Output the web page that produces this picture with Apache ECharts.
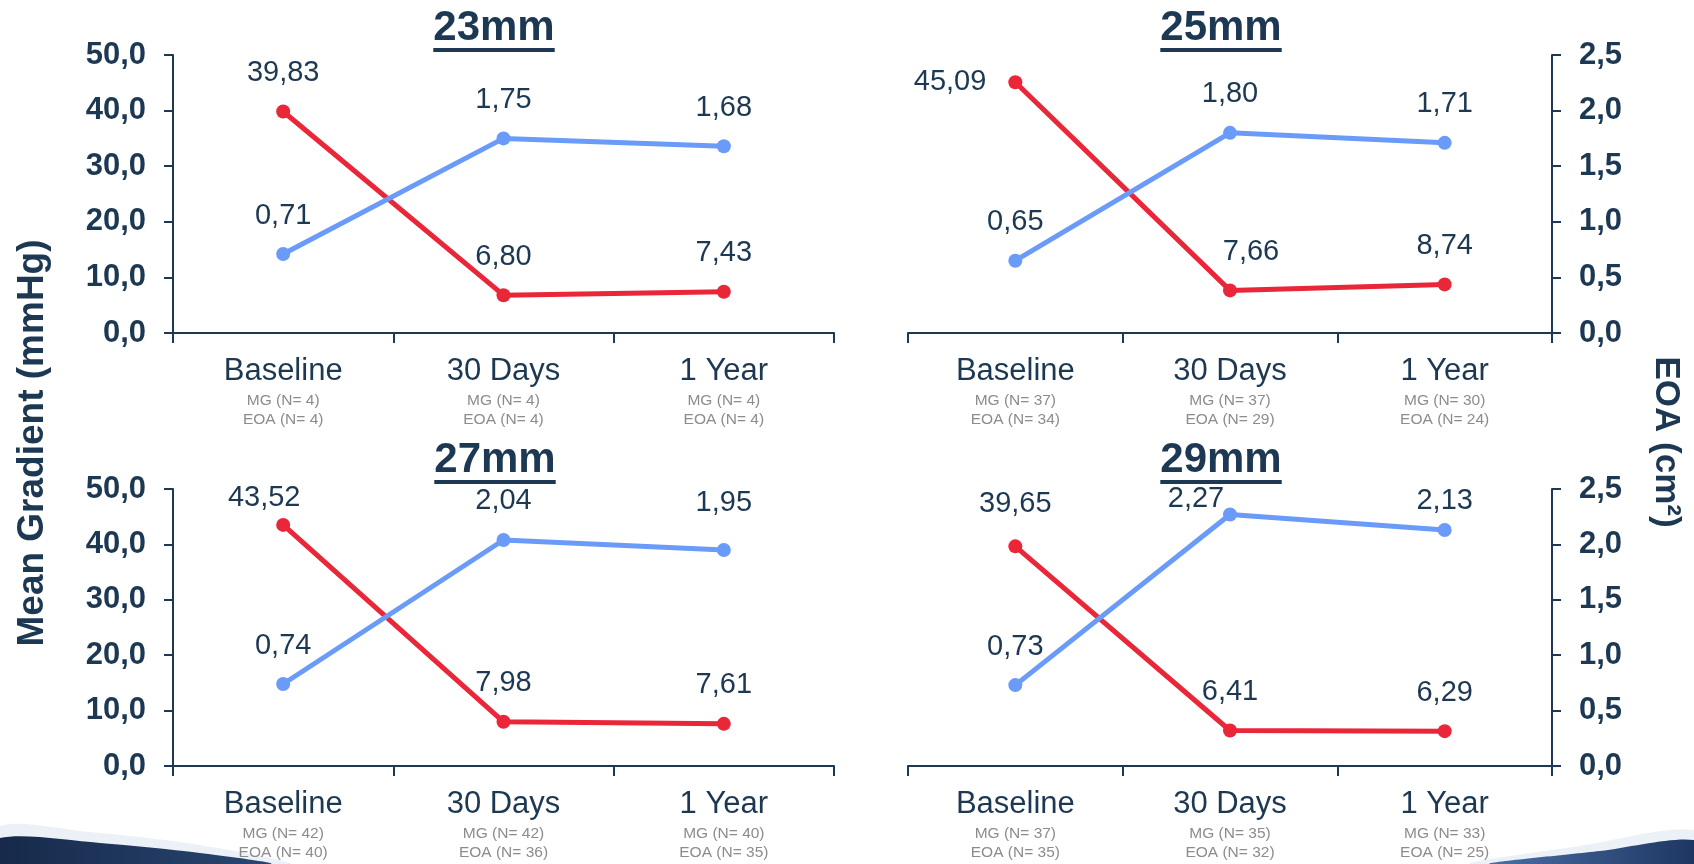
<!DOCTYPE html>
<html>
<head>
<meta charset="utf-8">
<script src="https://cdn.jsdelivr.net/npm/echarts@6/dist/echarts.min.js"></script>
<style>
  html, body { margin: 0; padding: 0; background: #ffffff; }
  #chart { width: 1694px; height: 864px; }
</style>
</head>
<body>
<div id="chart"></div>
<script>
// Follow-up time points
const categories = ['Baseline', '30 Days', '1 Year'];
const valveSizes = ['23mm', '25mm', '27mm', '29mm'];

// Mean gradient (mmHg) per valve size
const mg23 = [39.83, 6.80, 7.43];
const mg25 = [45.09, 7.66, 8.74];
const mg27 = [43.52, 7.98, 7.61];
const mg29 = [39.65, 6.41, 6.29];

// Effective orifice area (cm²) per valve size
const eoa23 = [0.71, 1.75, 1.68];
const eoa25 = [0.65, 1.80, 1.71];
const eoa27 = [0.74, 2.04, 1.95];
const eoa29 = [0.73, 2.27, 2.13];

// Patient counts under each time point
const nMG23 = [4, 4, 4];    const nEOA23 = [4, 4, 4];
const nMG25 = [37, 37, 30]; const nEOA25 = [34, 29, 24];
const nMG27 = [42, 42, 40]; const nEOA27 = [40, 36, 35];
const nMG29 = [37, 35, 33]; const nEOA29 = [35, 32, 25];

// Axis scales (both share the same vertical extent: 50 mmHg <-> 2.5 cm²)
const mgMax = 50, mgStep = 10;
const eoaMax = 2.5, eoaStep = 0.5;

const NAVY = '#1d3852';
const RED = '#ea2639';
const BLUE = '#6a9bf8';
const GREY = '#8c8c8c';
const FONT = '"Liberation Sans", Arial, sans-serif';

const panels = [
  { title: valveSizes[0], mg: mg23, eoa: eoa23, nMG: nMG23, nEOA: nEOA23, side: 'left',
    grid: { left: 173, top: 55, width: 661, height: 278 }, titleX: 494, titleY: 28, lineY: 48 },
  { title: valveSizes[1], mg: mg25, eoa: eoa25, nMG: nMG25, nEOA: nEOA25, side: 'right',
    grid: { left: 908, top: 55, width: 644, height: 278 }, titleX: 1221, titleY: 28, lineY: 48 },
  { title: valveSizes[2], mg: mg27, eoa: eoa27, nMG: nMG27, nEOA: nEOA27, side: 'left',
    grid: { left: 173, top: 489, width: 661, height: 277 }, titleX: 495, titleY: 460, lineY: 480 },
  { title: valveSizes[3], mg: mg29, eoa: eoa29, nMG: nMG29, nEOA: nEOA29, side: 'right',
    grid: { left: 908, top: 489, width: 644, height: 277 }, titleX: 1221, titleY: 460, lineY: 480 }
];

// Per-point label adjustments where labels would collide with lines or headings
const labelTweaks = {
  '25mm-mg-0': { position: 'left', distance: 22 },
  '25mm-mg-1': { offset: [21, 0] },
  '27mm-mg-0': { offset: [-19, 12] },
  '27mm-eoa-2': { offset: [0, -8] },
  '29mm-mg-0': { offset: [0, -4] },
  '29mm-eoa-1': { offset: [-34, 23] },
  '29mm-eoa-2': { offset: [0, 10] }
};

const comma = (v, d) => v.toFixed(d).replace('.', ',');

function measure(text, font) {
  const c = document.createElement('canvas').getContext('2d');
  c.font = font;
  return c.measureText(text).width;
}

const grids = [], xAxes = [], yAxes = [], series = [], graphics = [];

panels.forEach((p, i) => {
  grids.push(Object.assign({ containLabel: false }, p.grid));

  xAxes.push({
    type: 'category',
    gridIndex: i,
    data: categories,
    boundaryGap: true,
    axisLine: { show: true, lineStyle: { color: NAVY, width: 2 } },
    axisTick: { show: true, length: 10, lineStyle: { color: NAVY, width: 2 } },
    splitLine: { show: false },
    axisLabel: {
      margin: 18,
      interval: 0,
      formatter: (val, idx) =>
        `{c|${val}}\n{n|MG (N= ${p.nMG[idx]})}\n{n|EOA (N= ${p.nEOA[idx]})}`,
      rich: {
        c: { fontFamily: FONT, fontSize: 31, color: NAVY, lineHeight: 40, align: 'center' },
        n: { fontFamily: FONT, fontSize: 15.5, color: GREY, lineHeight: 19, align: 'center' }
      }
    }
  });

  const showMG = p.side === 'left';
  const axisStyle = {
    axisLine: { show: true, lineStyle: { color: NAVY, width: 2 } },
    axisTick: { show: true, length: 9, lineStyle: { color: NAVY, width: 2 } },
    splitLine: { show: false },
    axisLabel: { fontFamily: FONT, fontSize: 31, fontWeight: 'bold', color: NAVY, margin: 27 }
  };

  // MG axis (index 2i)
  yAxes.push(Object.assign({
    type: 'value', gridIndex: i, min: 0, max: mgMax, interval: mgStep,
    position: 'left', show: showMG
  }, JSON.parse(JSON.stringify(axisStyle)), {
    axisLabel: Object.assign({}, axisStyle.axisLabel, { formatter: v => comma(v, 1) })
  }));
  // EOA axis (index 2i+1)
  yAxes.push(Object.assign({
    type: 'value', gridIndex: i, min: 0, max: eoaMax, interval: eoaStep,
    position: 'right', show: !showMG
  }, JSON.parse(JSON.stringify(axisStyle)), {
    axisLabel: Object.assign({}, axisStyle.axisLabel, { formatter: v => comma(v, 1) })
  }));

  const mkData = (arr, key) => arr.map((v, k) => {
    const item = { value: v };
    const tw = labelTweaks[`${p.title}-${key}-${k}`];
    if (tw) item.label = tw;
    return item;
  });

  const lineSeries = (name, arr, key, color, yIdx) => ({
    type: 'line',
    name: name,
    xAxisIndex: i,
    yAxisIndex: yIdx,
    data: mkData(arr, key),
    symbol: 'circle',
    symbolSize: 14,
    lineStyle: { color: color, width: 5 },
    itemStyle: { color: color },
    z: key === 'eoa' ? 3 : 2,
    animation: false,
    label: {
      show: true,
      position: 'top',
      distance: 17,
      fontFamily: FONT,
      fontSize: 29,
      color: NAVY,
      formatter: prm => comma(prm.value, 2)
    }
  });

  series.push(lineSeries('Mean Gradient', p.mg, 'mg', RED, 2 * i));
  series.push(lineSeries('EOA', p.eoa, 'eoa', BLUE, 2 * i + 1));

  // Panel heading with underline
  const titleFont = `bold 42px ${FONT}`;
  const tw = measure(p.title, titleFont);
  graphics.push({
    type: 'text', x: p.titleX, y: p.titleY, z: 10,
    style: { text: p.title, font: titleFont, fill: NAVY, align: 'center', verticalAlign: 'middle' }
  });
  graphics.push({
    type: 'rect', z: 10,
    shape: { x: p.titleX - tw / 2, y: p.lineY, width: tw, height: 4 },
    style: { fill: NAVY }
  });
});

// Shared axis names
graphics.push({
  type: 'text', x: 33, y: 443, rotation: Math.PI / 2, z: 10,
  style: { text: 'Mean Gradient (mmHg)', font: `bold 37px ${FONT}`, fill: NAVY, align: 'center', verticalAlign: 'middle' }
});
graphics.push({
  type: 'text', x: 1666, y: 442, rotation: -Math.PI / 2, z: 10,
  style: { text: 'EOA (cm²)', font: `bold 35px ${FONT}`, fill: NAVY, align: 'center', verticalAlign: 'middle' }
});

// Decorative swooshes in the bottom corners
graphics.push({
  type: 'polygon', z: 0, silent: true,
  shape: { points: [[0, 826], [90, 832], [180, 842], [260, 856], [290, 864], [0, 864]], smooth: 0.3 },
  style: { fill: 'rgba(200,215,232,0.35)' }
});
graphics.push({
  type: 'polygon', z: 1, silent: true,
  shape: { points: [[0, 838], [100, 843], [200, 853], [270, 864], [0, 864]], smooth: 0.3 },
  style: {
    fill: new echarts.graphic.LinearGradient(0, 0, 1, 0, [
      { offset: 0, color: '#16294a' },
      { offset: 1, color: '#2a4670' }
    ])
  }
});
graphics.push({
  type: 'polygon', z: 0, silent: true,
  shape: { points: [[1470, 864], [1580, 846], [1694, 830], [1694, 864]], smooth: 0.3 },
  style: { fill: 'rgba(200,215,232,0.35)' }
});
graphics.push({
  type: 'polygon', z: 1, silent: true,
  shape: { points: [[1490, 864], [1600, 851], [1694, 840], [1694, 864]], smooth: 0.3 },
  style: {
    fill: new echarts.graphic.LinearGradient(0, 0, 1, 0, [
      { offset: 0, color: '#4a6fa5' },
      { offset: 1, color: '#1d3560' }
    ])
  }
});

const chart = echarts.init(document.getElementById('chart'), null, { renderer: 'canvas' });
chart.setOption({
  backgroundColor: '#ffffff',
  animation: false,
  textStyle: { fontFamily: FONT },
  grid: grids,
  xAxis: xAxes,
  yAxis: yAxes,
  series: series,
  graphic: graphics
});
</script>
</body>
</html>
